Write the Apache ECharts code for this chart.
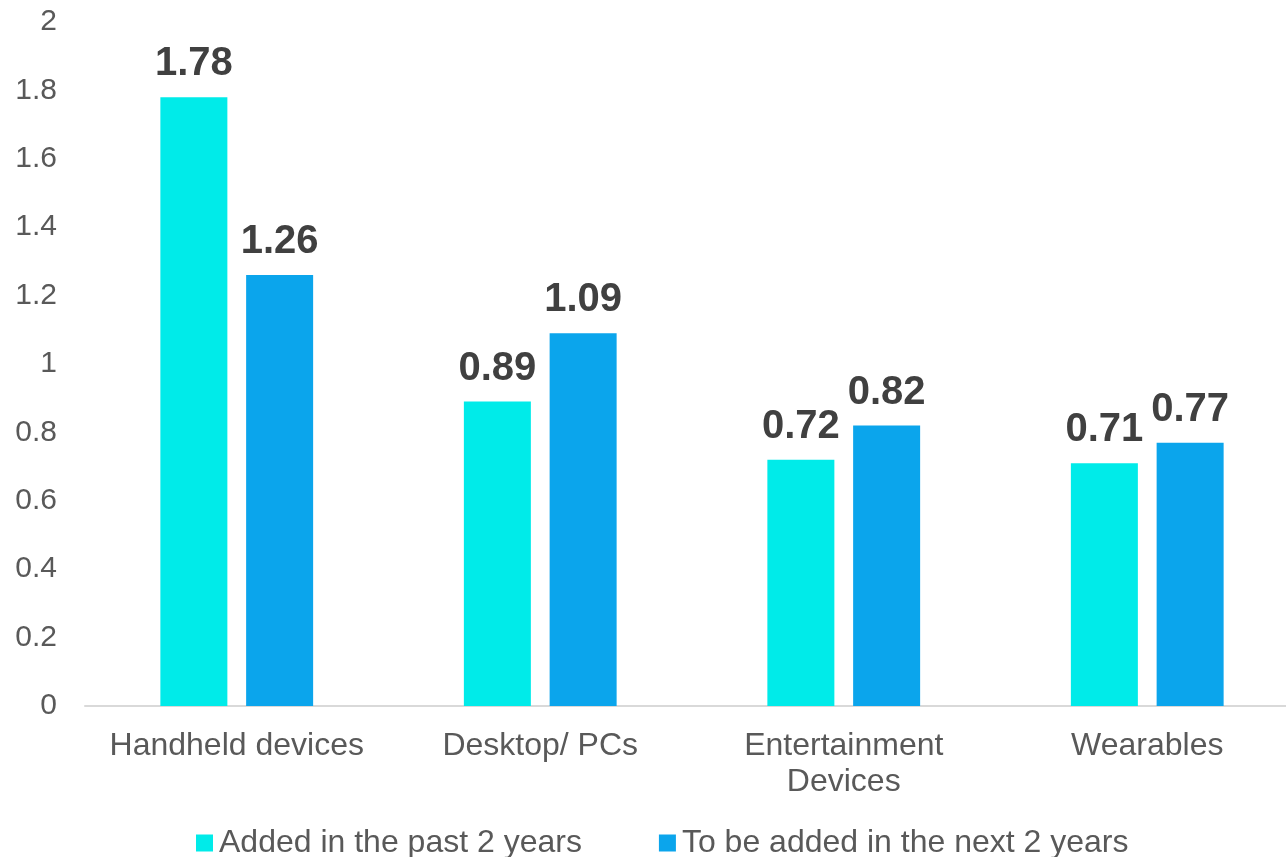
<!DOCTYPE html>
<html>
<head>
<meta charset="utf-8">
<script src="https://cdn.jsdelivr.net/npm/echarts@6/dist/echarts.min.js"></script>
<style>
  html, body { margin: 0; padding: 0; background: #fff; overflow: hidden; }
  #chart { width: 1300px; height: 857px; }
</style>
</head>
<body>
<div id="chart"></div>
<script>
var categories = ['Handheld devices', 'Desktop/ PCs', 'Entertainment\nDevices', 'Wearables'];
var pastValues = [1.78, 0.89, 0.72, 0.71];
var nextValues = [1.26, 1.09, 0.82, 0.77];
var seriesNames = ['Added in the past 2 years', 'To be added in the next 2 years'];

var chart = echarts.init(document.getElementById('chart'));

var labelStyle = {
    show: true,
    position: 'top',
    distance: 13,
    fontFamily: 'Liberation Sans',
    fontSize: 40,
    fontWeight: 'bold',
    color: '#404040'
};

var option = {
    animation: false,
    textStyle: { fontFamily: 'Liberation Sans' },
    grid: {
        left: 85,
        right: 1,
        top: 22,
        bottom: 151,
        containLabel: false
    },
    legend: {
        data: seriesNames,
        bottom: -2,
        left: 196,
        padding: 0,
        itemWidth: 17,
        itemHeight: 17,
        itemGap: 77,
        icon: 'rect',
        textStyle: {
            fontFamily: 'Liberation Sans',
            fontSize: 32,
            color: '#595959',
            padding: [0, 0, 0, 1]
        }
    },
    xAxis: {
        type: 'category',
        data: categories,
        axisLine: { lineStyle: { color: '#d9d9d9', width: 2 } },
        axisTick: { show: false },
        axisLabel: {
            fontFamily: 'Liberation Sans',
            fontSize: 32,
            color: '#595959',
            margin: 22,
            lineHeight: 36,
            interval: 0
        }
    },
    yAxis: {
        type: 'value',
        min: 0,
        max: 2,
        interval: 0.2,
        splitLine: { show: false },
        axisLine: { show: false },
        axisTick: { show: false },
        axisLabel: {
            fontFamily: 'Liberation Sans',
            fontSize: 30,
            color: '#595959',
            margin: 28
        }
    },
    series: [{
        name: seriesNames[0],
        type: 'bar',
        data: pastValues,
        barWidth: 67,
        barGap: '28%',
        itemStyle: { color: '#00EBE9' },
        label: labelStyle
    }, {
        name: seriesNames[1],
        type: 'bar',
        data: nextValues,
        barWidth: 67,
        barGap: '28%',
        itemStyle: { color: '#0BA5EC' },
        label: labelStyle
    }]
};

chart.setOption(option);
</script>
</body>
</html>
